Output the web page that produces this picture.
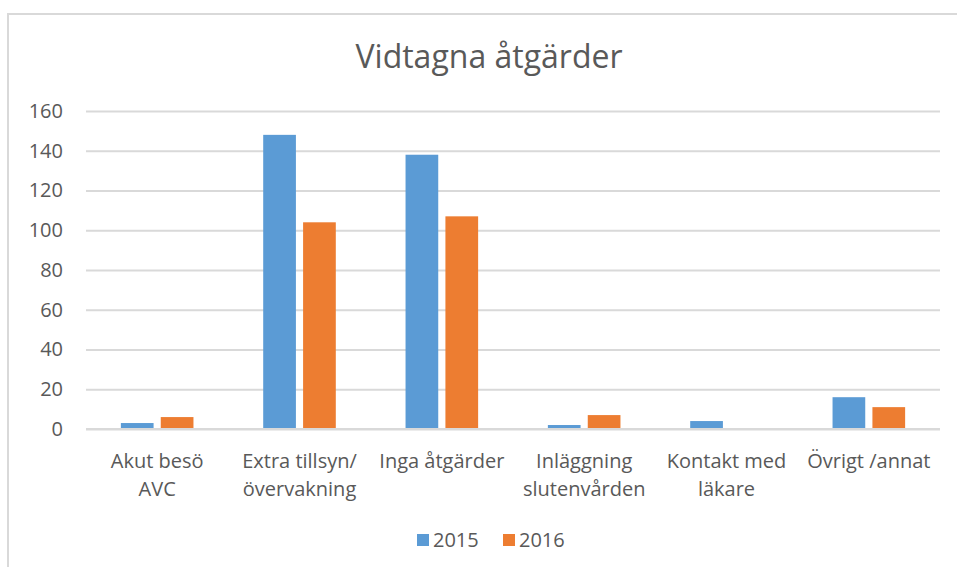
<!DOCTYPE html>
<html>
<head>
<meta charset="utf-8">
<script src="https://cdn.jsdelivr.net/npm/d3@7"></script>
<style>
  body { margin: 0; background: #fff; }
  text { font-family: "Open Sans", Lato, sans-serif; fill: #595959; }
</style>
</head>
<body>
<div id="wrapper"></div>
<script>
// data
const categories = [
  ["Akut besö", "AVC"],
  ["Extra tillsyn/", "övervakning"],
  ["Inga åtgärder"],
  ["Inläggning", "slutenvården"],
  ["Kontakt med", "läkare"],
  ["Övrigt /annat"],
];
const seriesNames = ["2015", "2016"];
const values2015 = [3, 148, 138, 2, 4, 16];
const values2016 = [6, 104, 107, 7, 0, 11];
const yTicks = [0, 20, 40, 60, 80, 100, 120, 140, 160];
const colors = ["#5b9bd5", "#ed7d31"];

const dimensions = {
  width: 957,
  height: 567,
  margin: { top: 111, right: 17, bottom: 138, left: 86 },
};
dimensions.boundedWidth =
  dimensions.width - dimensions.margin.left - dimensions.margin.right;
dimensions.boundedHeight =
  dimensions.height - dimensions.margin.top - dimensions.margin.bottom;

const wrapper = d3
  .select("#wrapper")
  .append("svg")
  .attr("width", dimensions.width)
  .attr("height", dimensions.height);

// outer frame (only top/left visible)
wrapper
  .append("rect")
  .attr("x", 8)
  .attr("y", 14)
  .attr("width", 1000)
  .attr("height", 700)
  .attr("fill", "none")
  .attr("stroke", "#d9d9d9")
  .attr("stroke-width", 2);

wrapper
  .append("text")
  .attr("x", 489)
  .attr("y", 68)
  .attr("text-anchor", "middle")
  .style("font-size", "32px")
  .text("Vidtagna åtgärder");

const bounds = wrapper
  .append("g")
  .attr(
    "transform",
    `translate(${dimensions.margin.left},${dimensions.margin.top})`
  );

const yScale = d3
  .scaleLinear()
  .domain([0, 160])
  .range([dimensions.boundedHeight, 0]);

const xScale = d3
  .scaleBand()
  .domain(d3.range(categories.length))
  .range([0, dimensions.boundedWidth])
  .paddingInner(0.49)
  .paddingOuter(0.245);

const innerScale = d3
  .scaleBand()
  .domain(seriesNames)
  .range([0, xScale.bandwidth()])
  .paddingInner(0.18);

// gridlines + y labels
const yAxis = bounds
  .append("g")
  .call(
    d3
      .axisLeft(yScale)
      .tickValues(yTicks)
      .tickSize(-dimensions.boundedWidth)
      .tickPadding(23)
  );
yAxis.select(".domain").remove();
yAxis.selectAll("line").attr("stroke", "#d9d9d9").attr("stroke-width", 2);
yAxis
  .selectAll("text")
  .style("font-size", "20px")
  .style("font-family", "'Open Sans', sans-serif")
  .attr("fill", "#595959");

// bars
const rows = categories.map((c, i) => [values2015[i], values2016[i]]);
const groups = bounds
  .selectAll(".group")
  .data(rows)
  .join("g")
  .attr("transform", (d, i) => `translate(${xScale(i)},0)`);

groups
  .selectAll("rect")
  .data((d) => d.map((v, j) => ({ v, j })))
  .join("rect")
  .attr("x", (d) => innerScale(seriesNames[d.j]))
  .attr("width", innerScale.bandwidth())
  .attr("y", (d) => yScale(d.v))
  .attr("height", (d) => dimensions.boundedHeight - yScale(d.v))
  .attr("fill", (d) => colors[d.j]);

// x axis line
bounds
  .append("line")
  .attr("x1", 0)
  .attr("x2", dimensions.boundedWidth)
  .attr("y1", dimensions.boundedHeight)
  .attr("y2", dimensions.boundedHeight)
  .attr("stroke", "#d9d9d9")
  .attr("stroke-width", 2);

// category labels
const catLabels = bounds
  .selectAll(".cat")
  .data(categories)
  .join("text")
  .attr("class", "cat")
  .attr("text-anchor", "middle")
  .style("font-size", "20px")
  .attr("transform", (d, i) =>
    `translate(${xScale(i) + xScale.bandwidth() / 2},${dimensions.boundedHeight + 39})`
  );
catLabels
  .selectAll("tspan")
  .data((d) => d)
  .join("tspan")
  .attr("x", 0)
  .attr("dy", (d, i) => (i === 0 ? 0 : 28))
  .text((d) => d);

// legend
const legend = wrapper
  .append("g")
  .attr("transform", "translate(417,540)");
const legendItems = legend
  .selectAll("g")
  .data(seriesNames)
  .join("g")
  .attr("transform", (d, i) => `translate(${i * 86},0)`);
legendItems
  .append("rect")
  .attr("x", 0)
  .attr("y", -6)
  .attr("width", 12)
  .attr("height", 12)
  .attr("fill", (d, i) => colors[i]);
legendItems
  .append("text")
  .attr("x", 16)
  .attr("y", 7)
  .style("font-size", "20px")
  .text((d) => d);
</script>
</body>
</html>
